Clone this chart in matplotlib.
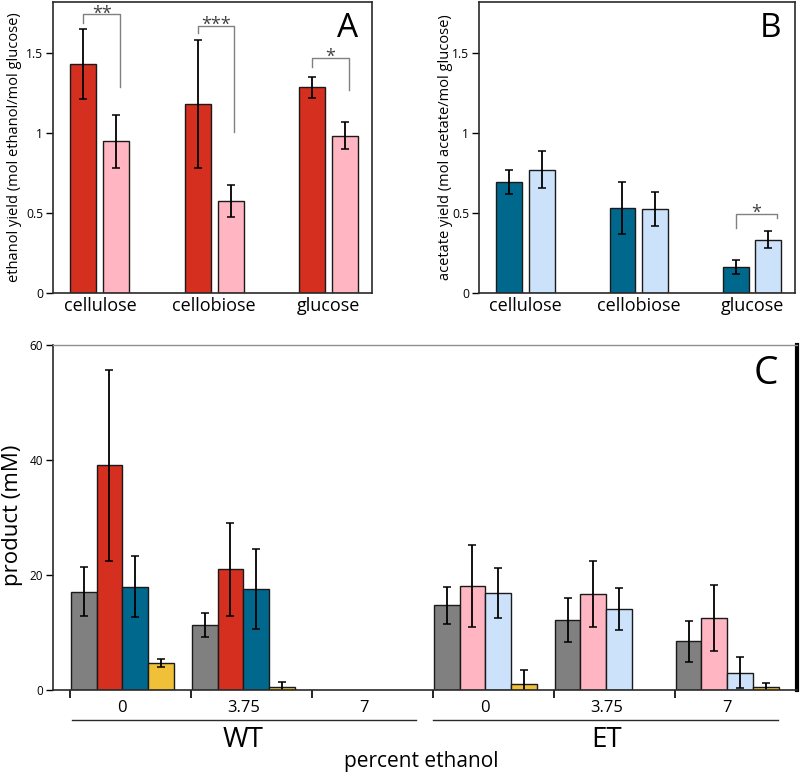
import numpy as np
import matplotlib
matplotlib.use('Agg')
import matplotlib.pyplot as plt

plt.rcParams['font.family'] = ['Open Sans', 'DejaVu Sans']

# ---- data ----
substrates = ['cellulose', 'cellobiose', 'glucose']

# panel A: ethanol yield
eth_wt = [1.43, 1.18, 1.283]
eth_wt_err = [0.22, 0.40, 0.067]
eth_et = [0.948, 0.577, 0.983]
eth_et_err = [0.165, 0.10, 0.085]

# panel B: acetate yield
ace_wt = [0.696, 0.531, 0.165]
ace_wt_err = [0.075, 0.16, 0.043]
ace_et = [0.769, 0.527, 0.333]
ace_et_err = [0.115, 0.107, 0.053]

# significance brackets: group, stars, top, left end, right end
sig_A = [(0, '**', 1.739, 1.685, 1.288),
         (1, '***', 1.666, 1.621, 1.004),
         (2, '*', 1.465, 1.413, 1.267)]
sig_B = [(2, '*', 0.494, 0.409, 0.467)]

# panel C: products (mM)
pct_labels = ['0', '3.75', '7']
nan = np.nan
wt_gray = [17.1, 11.3, nan]
wt_gray_err = [4.3, 2.15, nan]
wt_eth = [39.1, 21.0, nan]
wt_eth_err = [16.6, 8.05, nan]
wt_ace = [18.0, 17.6, nan]
wt_ace_err = [5.25, 7.0, nan]
wt_lac = [4.75, 0.46, nan]
wt_lac_err = [0.7, 1.0, nan]

et_gray = [14.7, 12.2, 8.5]
et_gray_err = [3.2, 3.8, 3.55]
et_eth = [18.1, 16.75, 12.5]
et_eth_err = [7.2, 5.75, 5.7]
et_ace = [16.9, 14.1, 3.0]
et_ace_err = [4.3, 3.6, 2.7]
et_lac = [1.1, nan, 0.46]
et_lac_err = [2.4, nan, 0.75]

# colours
red = '#d42f1f'
pink = '#ffb5c2'
dblue = '#00688c'
lblue = '#cce2fb'
gray = '#808080'
yellow = '#f0c038'

W, H = 800, 773
fig = plt.figure(figsize=(W / 100, H / 100), dpi=100)


def rect(l, t, r, b):
    return [l / W, 1 - b / H, (r - l) / W, (b - t) / H]


def style_box(ax):
    for s in ax.spines.values():
        s.set_color('#2a2a2a')
        s.set_linewidth(1.2)


def yield_panel(ax, a, a_err, b, b_err, ca, cb, sig, ylabel, letter, ylabel_x, right_off):
    x = np.arange(len(substrates))
    w = 0.227
    off = 0.144
    ek = dict(ecolor='black', elinewidth=1.3, capsize=2.6, capthick=1.1)
    ax.bar(x - off, a, w, yerr=a_err, color=ca, edgecolor='#1a1a1a', linewidth=1.0, error_kw=ek)
    ax.bar(x + off, b, w, yerr=b_err, color=cb, edgecolor='#1a1a1a', linewidth=1.0, error_kw=ek)
    for g, stars, top, ly, ry in sig:
        xl = g - off
        xr = g + right_off
        ax.plot([xl, xl, xr, xr], [ly, top, top, ry], color='#808080', lw=1.0)
        ax.text((xl + xr) / 2, top - 0.025, stars, ha='center', va='baseline',
                fontsize=13, color='#404040')
    ax.set_xlim(-0.41, 2.38)
    ax.set_ylim(0, 1.816)
    ax.set_xticks(x)
    ax.set_xticklabels(substrates, fontsize=13)
    ax.tick_params(axis='x', length=0, pad=3)
    ax.set_yticks([0, 0.5, 1, 1.5])
    ax.set_yticklabels(['0', '0.5', '1', '1.5'], fontsize=8.7)
    ax.tick_params(axis='y', length=5, width=1.0, pad=2, direction='out')
    style_box(ax)
    ax.text(1 - 14 / ax.bbox.width, 1 - 10 / 291, letter,
            transform=ax.transAxes, ha='right', va='top', fontsize=24)
    fig.text(ylabel_x / W, 1 - 147 / H, ylabel, rotation=90, ha='center', va='center', fontsize=10.5)


axA = fig.add_axes(rect(53, 2, 372, 293.3))
yield_panel(axA, eth_wt, eth_wt_err, eth_et, eth_et_err, red, pink, sig_A,
            'ethanol yield (mol ethanol/mol glucose)', 'A', 14.5, 0.175)

axB = fig.add_axes(rect(479, 2, 795, 293.3))
yield_panel(axB, ace_wt, ace_wt_err, ace_et, ace_et_err, dblue, lblue, sig_B,
            'acetate yield (mol acetate/mol glucose)', 'B', 445.8, 0.22)

# ---- panel C ----
axC = fig.add_axes(rect(53, 345, 796.7, 690))
w = 0.213
ek = dict(ecolor='black', elinewidth=1.3, capsize=2.6, capthick=1.1)
xw = np.arange(3)
xe = np.arange(3) + 3
series = [
    (xw, wt_gray, wt_gray_err, gray), (xw, wt_eth, wt_eth_err, red),
    (xw, wt_ace, wt_ace_err, dblue), (xw, wt_lac, wt_lac_err, yellow),
    (xe, et_gray, et_gray_err, gray), (xe, et_eth, et_eth_err, pink),
    (xe, et_ace, et_ace_err, lblue), (xe, et_lac, et_lac_err, yellow),
]
for i, (xx, v, e, c) in enumerate(series):
    k = i % 4
    axC.bar(xx + (k - 1.5) * w, v, w, yerr=e, color=c, edgecolor='#1a1a1a',
            linewidth=1.0, error_kw=ek)

axC.set_xlim(-0.573, 5.574)
axC.set_ylim(0, 60)
axC.set_yticks([0, 20, 40, 60])
axC.set_yticklabels(['0', '20', '40', '60'], fontsize=8.5)
axC.tick_params(axis='y', length=5, width=1.0, pad=2)
axC.set_xticks(np.arange(6) - 0.43)
axC.set_xticklabels([])
axC.tick_params(axis='x', which='major', length=6, width=1.2, direction='out')
axC.set_xticks(np.arange(6), minor=True)
axC.set_xticklabels(pct_labels * 2, minor=True, fontsize=12)
axC.tick_params(axis='x', which='minor', length=0, pad=7)
for s in ['left', 'bottom']:
    axC.spines[s].set_color('#2a2a2a')
    axC.spines[s].set_linewidth(1.2)
axC.spines['top'].set_color('#909090')
axC.spines['top'].set_linewidth(1.0)
axC.spines['right'].set_color('black')
axC.spines['right'].set_linewidth(3.0)

trans = axC.get_xaxis_transform()
yline = -30 / 345
axC.plot([-0.418, 2.427], [yline, yline], color='#2a2a2a', lw=1.0, transform=trans, clip_on=False)
axC.plot([2.568, 5.419], [yline, yline], color='#2a2a2a', lw=1.0, transform=trans, clip_on=False)
axC.text(1.0, -50 / 345, 'WT', transform=trans, ha='center', va='center', fontsize=20)
axC.text(4.0, -50 / 345, 'ET', transform=trans, ha='center', va='center', fontsize=20)
fig.text(421 / W, 1 - 762 / H, 'percent ethanol', ha='center', va='center', fontsize=15)
fig.text(13 / W, 1 - 515 / H, 'product (mM)', rotation=90, ha='center', va='center', fontsize=16)
axC.text(1 - 19 / 743.7, 1 - 10 / 345, 'C', transform=axC.transAxes, ha='right', va='top', fontsize=28)

fig.savefig('out.png', dpi=100)
